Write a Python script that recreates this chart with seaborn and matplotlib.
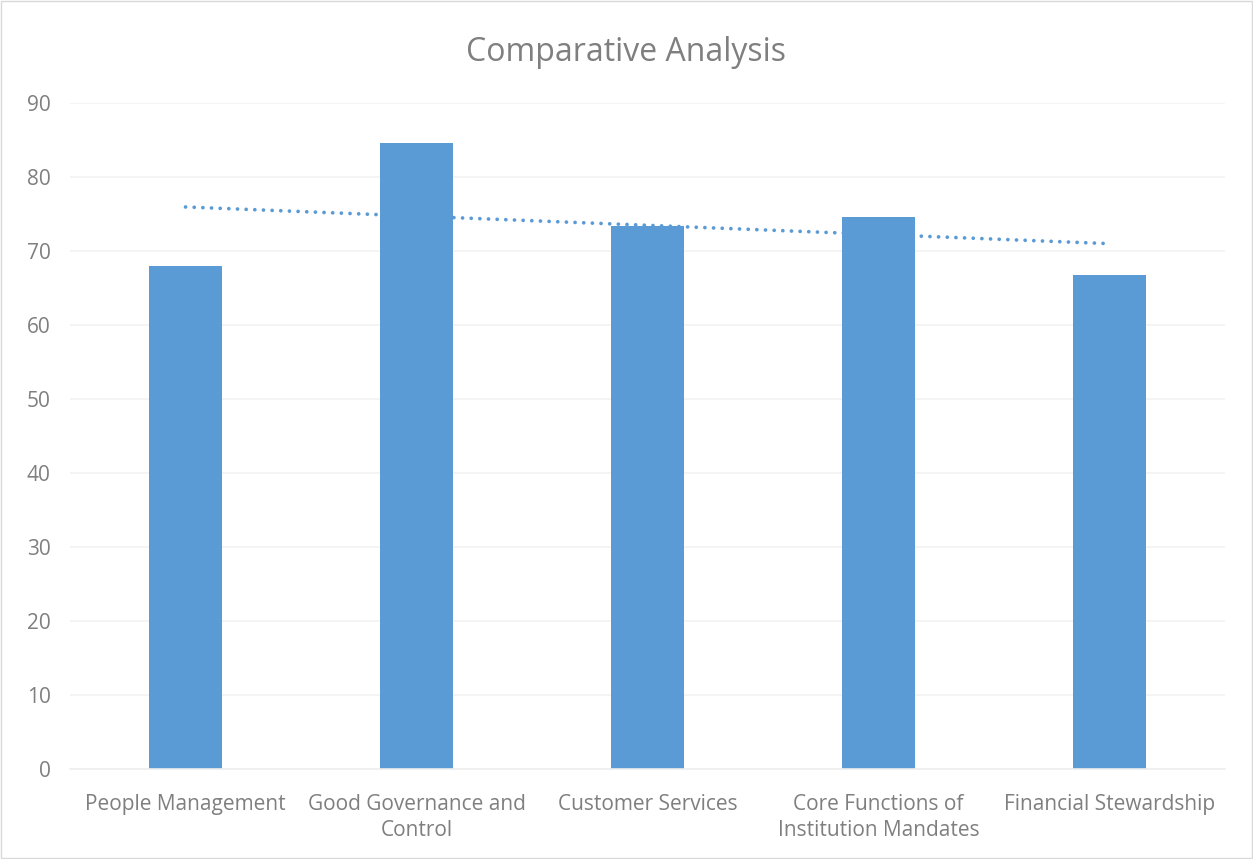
import numpy as np
import pandas as pd
import matplotlib
matplotlib.use("Agg")
import matplotlib.pyplot as plt
import seaborn as sns

categories = ["People Management", "Good Governance and\nControl", "Customer Services",
              "Core Functions of\nInstitution Mandates", "Financial Stewardship"]
values = [68.0, 84.6, 73.4, 74.6, 66.8]
yticks = [0, 10, 20, 30, 40, 50, 60, 70, 80, 90]

sns.set_theme(style="white")
plt.rcParams['font.family'] = ['Open Sans', 'DejaVu Sans']

TEXT = "#7f7f7f"
BAR = "#5b9bd5"

fig = plt.figure(figsize=(12.53, 8.59), dpi=100)
ax = fig.add_axes([0.0559, 0.1048, 0.9218, 0.7752])

df = pd.DataFrame({"cat": categories, "val": values})
sns.barplot(data=df, x="cat", y="val", color=BAR, width=0.316, saturation=1,
            edgecolor="none", ax=ax, zorder=2)

# linear trendline
xs = np.arange(len(values))
coef = np.polyfit(xs + 1, values, 1)
trend = np.polyval(coef, xs + 1)
ax.plot(xs, trend, linestyle=(0, (0.01, 2.3)), dash_capstyle="round", color=BAR,
        linewidth=2.7, zorder=3)

ax.set_ylim(0, 90)
ax.set_xlim(-0.5, len(values) - 0.5)
ax.set_yticks(yticks)
ax.set_yticklabels([str(t) for t in yticks])
ax.yaxis.grid(True, color="#f2f2f2", linewidth=1.2, zorder=0)
ax.xaxis.grid(False)
ax.set_axisbelow(True)
for s in ["top", "right", "left"]:
    ax.spines[s].set_visible(False)
ax.spines["bottom"].set_color("#eeeeee")
ax.spines["bottom"].set_linewidth(1.2)
ax.tick_params(axis="both", length=0, colors=TEXT, labelsize=15)
ax.tick_params(axis="y", pad=14)
ax.tick_params(axis="x", pad=18)
for lbl in ax.get_xticklabels():
    lbl.set_linespacing(1.3)
ax.set_xlabel("")
ax.set_ylabel("")

fig.text(0.5, 0.939, "Comparative Analysis", ha="center", va="center",
         fontsize=23, color=TEXT)

# figure border
border = plt.Rectangle((0.001, 0.001), 0.998, 0.998, transform=fig.transFigure,
                       fill=False, edgecolor="#d9d9d9", linewidth=1)
fig.patches.append(border)

fig.savefig("out.png", dpi=100, facecolor="white")
